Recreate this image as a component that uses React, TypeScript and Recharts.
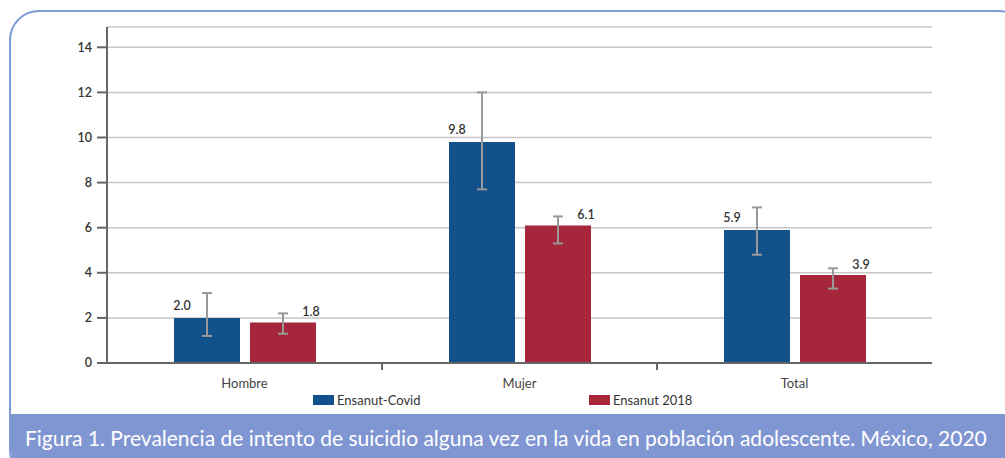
import React from 'react'
import {
  BarChart,
  Bar,
  XAxis,
  YAxis,
  CartesianGrid,
  ErrorBar,
  LabelList,
} from 'recharts'

// values
const categories = ['Hombre', 'Mujer', 'Total']
const covidValues = [2.0, 9.8, 5.9]
const covidLow = [1.2, 7.7, 4.8]
const covidHigh = [3.1, 12.0, 6.9]
const ensanutValues = [1.8, 6.1, 3.9]
const ensanutLow = [1.3, 5.3, 3.3]
const ensanutHigh = [2.2, 6.5, 4.2]
const yTicks = [0, 2, 4, 6, 8, 10, 12, 14]

const seriesNames = ['Ensanut-Covid', 'Ensanut 2018']
const caption =
  'Figura 1. Prevalencia de intento de suicidio alguna vez en la vida en población adolescente. México, 2020'

const BLUE = '#12518b'
const RED = '#a6263b'
const FONT = 'Lato, "Open Sans", sans-serif'

const data = categories.map((name, i) => ({
  name,
  covid: covidValues[i],
  covidErr: [covidValues[i] - covidLow[i], covidHigh[i] - covidValues[i]],
  ensanut: ensanutValues[i],
  ensanutErr: [ensanutValues[i] - ensanutLow[i], ensanutHigh[i] - ensanutValues[i]],
}))

const PLOT_LEFT = 107
const PLOT_RIGHT = 932
const bandSize = (PLOT_RIGHT - PLOT_LEFT) / categories.length

function CategoryTick(props: any) {
  const { x, y, payload, index } = props
  const last = index === categories.length - 1
  return (
    <g>
      {!last && (
        <line
          x1={x + bandSize / 2}
          x2={x + bandSize / 2}
          y1={y - 8}
          y2={y - 1}
          stroke="#666"
          strokeWidth={2}
        />
      )}
      <text
        x={x}
        y={y + 17}
        textAnchor="middle"
        fontSize={13}
        fill="#444"
        fontFamily={FONT}
      >
        {payload.value}
      </text>
    </g>
  )
}

// blue labels sit over the left edge, red ones over the right edge
function CovidLabel(props: any) {
  const { x, y, value } = props
  return (
    <text x={x + 8} y={y - 8} textAnchor="middle" fontSize={12.5} fill="#333" fontFamily={FONT} fontWeight={600}>
      {Number(value).toFixed(1)}
    </text>
  )
}

function EnsanutLabel(props: any) {
  const { x, y, width, value } = props
  return (
    <text x={x + width - 5} y={y - 6} textAnchor="middle" fontSize={12.5} fill="#333" fontFamily={FONT} fontWeight={600}>
      {Number(value).toFixed(1)}
    </text>
  )
}

export default function App() {
  return (
    <div
      style={{
        position: 'absolute',
        left: 0,
        top: 0,
        width: 1005,
        height: 458,
        overflow: 'hidden',
        background: 'white',
        fontFamily: FONT,
      }}
    >
      {/* rounded frame */}
      <div
        style={{
          position: 'absolute',
          left: 9,
          top: 10,
          width: 1020,
          height: 470,
          border: '2px solid #7f9ad6',
          borderRadius: 30,
          boxSizing: 'border-box',
          overflow: 'hidden',
        }}
      >
        <div
          style={{
            position: 'absolute',
            left: 0,
            top: 402,
            width: '100%',
            height: 80,
            background: '#8096d2',
          }}
        />
      </div>

      <div style={{ position: 'absolute', left: 0, top: 0 }}>
        <BarChart
          width={1005}
          height={400}
          data={data}
          margin={{ top: 27, right: 1005 - PLOT_RIGHT, left: 0, bottom: 7 }}
          barSize={66}
          barGap={10}
        >
          <CartesianGrid vertical={false} stroke="#c6c6c6" strokeWidth={1.5} />
          <XAxis
            dataKey="name"
            axisLine={{ stroke: '#666', strokeWidth: 2 }}
            tickLine={false}
            tick={<CategoryTick />}
            height={30}
            interval={0}
          />
          <YAxis
            width={PLOT_LEFT}
            domain={[0, 14.9]}
            ticks={yTicks}
            interval={0}
            axisLine={{ stroke: '#666', strokeWidth: 2 }}
            tickLine={{ stroke: '#666', strokeWidth: 2 }}
            tickSize={10}
            tickMargin={5}
            tick={{ fontSize: 12.5, fill: '#333', fontFamily: FONT, fontWeight: 600 }}
          />
          <Bar dataKey="covid" fill={BLUE} isAnimationActive={false}>
            <ErrorBar dataKey="covidErr" width={5} stroke="#999" strokeWidth={2} direction="y" />
            <LabelList dataKey="covid" content={<CovidLabel />} />
          </Bar>
          <Bar dataKey="ensanut" fill={RED} isAnimationActive={false}>
            <ErrorBar dataKey="ensanutErr" width={5} stroke="#999" strokeWidth={2} direction="y" />
            <LabelList dataKey="ensanut" content={<EnsanutLabel />} />
          </Bar>
        </BarChart>
      </div>

      {/* legend */}
      {[BLUE, RED].map((color, i) => (
        <div
          key={seriesNames[i]}
          style={{
            position: 'absolute',
            left: i === 0 ? 313 : 589,
            top: 392,
            display: 'flex',
            alignItems: 'center',
            fontSize: 13,
            color: '#333',
          }}
        >
          <span style={{ width: 21, height: 10, background: color, marginRight: 3 }} />
          <span>{seriesNames[i]}</span>
        </div>
      ))}

      <div
        style={{
          position: 'absolute',
          left: 25,
          top: 425,
          color: 'white',
          fontSize: 21,
          whiteSpace: 'nowrap',
        }}
      >
        {caption}
      </div>
    </div>
  )
}
